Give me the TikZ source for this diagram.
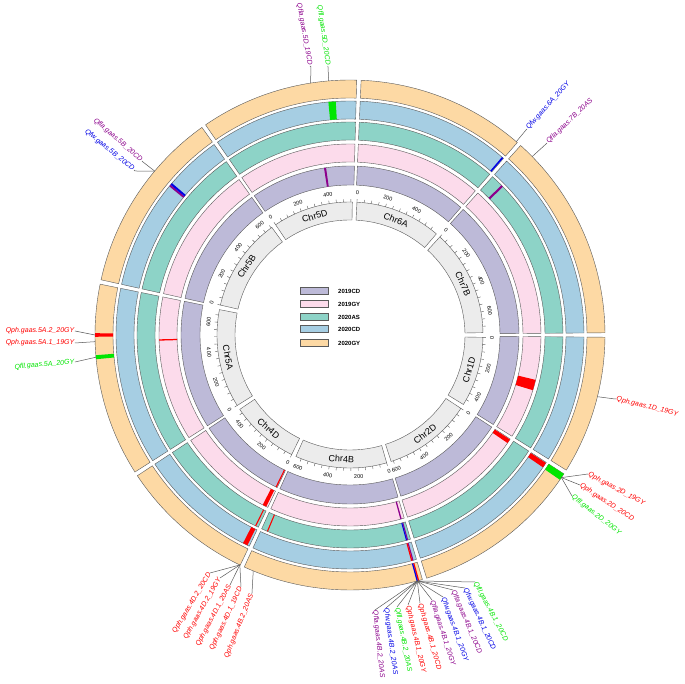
\documentclass[tikz,border=0pt]{standalone}
\usepackage{fontspec}
\setmainfont{Liberation Sans}
\definecolor{cpur}{RGB}{189,186,216}
\definecolor{cpink}{RGB}{252,219,235}
\definecolor{cteal}{RGB}{141,211,199}
\definecolor{cblue}{RGB}{166,206,227}
\definecolor{corange}{RGB}{253,217,164}
\definecolor{cgrey}{RGB}{236,236,236}
\definecolor{ringline}{RGB}{90,90,90}
\definecolor{lred}{RGB}{255,0,0}
\definecolor{lgreen}{RGB}{0,230,0}
\definecolor{lblue}{RGB}{0,0,230}
\definecolor{lpur}{RGB}{140,0,140}
\newcommand\mysector[5]{\fill[#5,draw=ringline,line width=0.4pt] (#3:#1pt) arc[start angle=#3,end angle=#4,radius=#1pt] -- (#4:#2pt) arc[start angle=#4,end angle=#3,radius=#2pt] -- cycle;}
\newcommand\myqtl[5]{\pgfmathsetmacro\qa{#3+#4/2}\pgfmathsetmacro\qb{#3-#4/2}\fill[#5] (\qa:#1pt) arc[start angle=\qa,end angle=\qb,radius=#1pt] -- (\qb:#2pt) arc[start angle=\qb,end angle=\qa,radius=#2pt] -- cycle;}
\tikzset{
  qlab/.style={font=\fontsize{7}{8}\selectfont\itshape,inner sep=0.5pt},
  lead/.style={draw=ringline,line width=0.5pt},
  legbox/.style={draw=ringline,line width=0.5pt,minimum width=28pt,minimum height=7pt,inner sep=0pt},
  legtxt/.style={font=\fontsize{6}{7}\selectfont\bfseries,anchor=west,inner sep=0pt}
}
\begin{document}
\begin{tikzpicture}[x=1pt,y=1pt]
\useasboundingbox (-350,-349) rectangle (335,335);
\fill[white] (-350,-349) rectangle (335,335);
% chromosomes and rings
\foreach \nm/\s/\e in {Chr6A/88/48.5, Chr7B/48.5/0, Chr1D/0/-32.5, Chr2D/-32.5/-73, Chr4B/-73/-115, Chr4D/-115/-147, Chr5A/-147/-192, Chr5B/168/125, Chr5D/125/88}{
  \pgfmathsetmacro\sa{\s-0.5}\pgfmathsetmacro\ea{\e+0.5}
  \foreach \ri/\ro/\c in {150/169/cpur,173/191/cpink,195/213/cteal,216/234/cblue,237/255/corange}{
    \mysector{\ri}{\ro}{\sa}{\ea}{\c}}
  \pgfmathsetmacro\sg{\s-1}\pgfmathsetmacro\eg{\e+1}
  \mysector{115}{133}{\sg}{\eg}{cgrey}
  \pgfmathsetmacro\mid{(\s+\e)/2}
  \pgfmathsetmacro\rot{mod(\mid-90+810,180)-90}
  \node[font=\fontsize{9}{10}\selectfont,rotate=\rot] (lab\nm) at (\mid:124pt) {\nm};
  \foreach \t in {0,50,...,750}{
    \pgfmathsetmacro\ok{(\t*0.0625<=\s-\e-2.3)?1:0}
    \ifdim\ok pt>0.5pt
      \pgfmathsetmacro\ang{\s-1-\t*0.0625}
      \draw[ringline,line width=0.4pt] (\ang:133pt) -- (\ang:136pt);
      \pgfmathsetmacro\lb{(mod(\t,200)==0)?1:0}
      \ifdim\lb pt>0.5pt
        \pgfmathsetmacro\rt{mod(\ang-90+810,180)-90}
        \node[font=\fontsize{5.5}{6}\selectfont,rotate=\rt,inner sep=0pt] at (\ang:142pt) {\t};
      \fi
    \fi
  }
}
% QTL marks
\myqtl{150}{169}{98.5}{0.7}{lpur}
\myqtl{216}{234}{94.4}{1.8}{lgreen}
\myqtl{216}{234}{140.3}{0.5}{lpur}
\myqtl{216}{234}{139.8}{0.5}{lblue}
\myqtl{216}{234}{49.3}{0.4}{lblue}
\myqtl{195}{213}{44.4}{0.6}{lpur}
\myqtl{173}{191}{-15.2}{3.2}{lred}
\myqtl{173}{191}{-33.8}{1.3}{lred}
\myqtl{216}{234}{-33.8}{1.3}{lred}
\myqtl{237}{255}{-33.8}{1.6}{lgreen}
\myqtl{173}{191}{-74.5}{0.4}{lpur}
\myqtl{195}{213}{-74.3}{0.3}{lpur}
\myqtl{195}{213}{-74.6}{0.3}{lblue}
\myqtl{216}{234}{-74.4}{0.3}{lpur}
\myqtl{216}{234}{-74.7}{0.3}{lred}
\myqtl{237}{255}{-74.4}{0.3}{lred}
\myqtl{237}{255}{-74.7}{0.3}{lblue}
\myqtl{150}{169}{-115.9}{0.4}{lred}
\myqtl{173}{191}{-116.6}{1.2}{lred}
\myqtl{195}{213}{-112.8}{0.3}{lred}
\myqtl{195}{213}{-116.3}{0.3}{lred}
\myqtl{216}{234}{-116.6}{1.2}{lred}
\myqtl{237}{255}{180}{0.8}{lred}
\myqtl{173}{191}{181.5}{0.4}{lred}
\myqtl{237}{255}{185}{0.9}{lgreen}
% legend
\foreach \y/\c/\t in {44/cpur/2019CD,31/cpink/2019GY,18/cteal/2020AS,6/cblue/2020CD,-8/corange/2020GY}{
  \node[legbox,fill=\c] (box\t) at (-36,\y) {};
  \node[legtxt] (txt\t) at (-12,\y) {\t};
}
% label connectors
\coordinate (a5D1) at (98.9:255pt);
\coordinate (e5D1) at (-39,268);
\node[qlab,lpur,rotate=-80,anchor=east] (l5D1) at (-40,269) {Qfla.gaas.5D\_19CD};
\draw[lead] (a5D1) -- (e5D1) -- (l5D1.east);
\coordinate (a5D2) at (94.8:255pt);
\coordinate (e5D2) at (-22,268);
\node[qlab,lgreen,rotate=-82,anchor=east] (l5D2) at (-22,269) {Qfll.gaas.5D\_20CD};
\draw[lead] (a5D2) -- (e5D2) -- (l5D2.east);
\coordinate (a5B) at (140:255pt);
\coordinate (e5B1) at (-207,173);
\coordinate (e5B2) at (-215,164);
\node[qlab,lpur,rotate=-41,anchor=east] (l5B1) at (-208,174) {Qfla.gaas.5B\_20CD};
\node[qlab,lblue,rotate=-39,anchor=east] (l5B2) at (-216,165) {Qfw.gaas.5B\_20CD};
\draw[lead] (a5B) -- (e5B1) -- (l5B1.east);
\draw[lead] (a5B) -- (e5B2) -- (l5B2.east);
\coordinate (a6A) at (49.3:255pt);
\coordinate (e6A) at (176,205);
\node[qlab,lblue,rotate=48,anchor=west] (l6A) at (177,206) {Qfw.gaas.6A\_20GY};
\draw[lead] (a6A) -- (e6A) -- (l6A.west);
\coordinate (a7B) at (44.4:255pt);
\coordinate (e7B) at (196,191);
\node[qlab,lpur,rotate=44,anchor=west] (l7B) at (197,192) {Qfla.gaas.7B\_20AS};
\draw[lead] (a7B) -- (e7B) -- (l7B.west);
\coordinate (a1D) at (-14:255pt);
\coordinate (e1D) at (265,-64);
\node[qlab,lred,rotate=-14,anchor=west] (l1D) at (266,-64) {Qph.gaas.1D\_19GY};
\draw[lead] (a1D) -- (e1D) -- (l1D.west);
\coordinate (a2D) at (-34:255pt);
\foreach \i/\p/\r/\c/\t in {1/{(238,-139)}/-28/lred/Qph.gaas.2D\_19GY, 2/{(230,-150)}/-33/lred/Qph.gaas.2D\_20CD, 3/{(222,-161)}/-38/lgreen/Qfll.gaas.2D\_20GY}{
  \node[qlab,\c,rotate=\r,anchor=west] (l2D\i) at \p {\t};
  \draw[lead] (a2D) -- (l2D\i.west);
}
\coordinate (a4B) at (-74.7:255pt);
\foreach \i/\p/\r/\c/\t in {
 1/{(25,-275)}/-84/lpur/Qfla.gaas.4B.2\_20AS,
 2/{(36,-273)}/-82/lblue/Qfw.gaas.4B.2\_20AS,
 3/{(47,-272)}/-79/lgreen/Qfll.gaas.4B.2\_20AS,
 4/{(58,-270)}/-77/lred/Qph.gaas.4B.1\_20GY,
 5/{(70,-268)}/-74/lred/Qph.gaas.4B.1\_20CD,
 6/{(82,-265)}/-72/lpur/Qfla.gaas.4B.1\_20GY,
 7/{(93,-262)}/-70/lblue/Qfw.gaas.4B.1\_20GY,
 8/{(103,-255)}/-67/lpur/Qfla.gaas.4B.1\_20CD,
 9/{(115,-253)}/-65/lblue/Qfw.gaas.4B.1\_20CD,
 10/{(125,-247)}/-62/lgreen/Qfll.gaas.4B.1\_20CD}{
  \node[qlab,\c,rotate=\r,anchor=west] (l4B\i) at \p {\t};
  \draw[lead] (a4B) -- (l4B\i.west);
}
\coordinate (a4D) at (-115.6:255pt);
\foreach \i/\p/\r/\t in {
 1/{(-140,-238)}/59/Qph.gaas.4D.2\_20CD,
 2/{(-130,-243)}/60/Qph.gaas.4D.2\_19GY,
 3/{(-120,-250)}/62/Qph.gaas.4D.1\_20AS,
 4/{(-109,-252)}/65/Qph.gaas.4D.1\_19CD}{
  \node[qlab,lred,rotate=\r,anchor=east] (l4D\i) at \p {\t};
  \draw[lead] (a4D) -- (l4D\i.east);
}
\coordinate (a4B2) at (-112.3:255pt);
\coordinate (e4B2) at (-98,-258);
\node[qlab,lred,rotate=68,anchor=east] (l4B2) at (-98,-259) {Qph.gaas.4B.2\_20AS};
\draw[lead] (a4B2) -- (e4B2) -- (l4B2.east);
\coordinate (a5A1) at (180:255pt);
\coordinate (a5A2) at (181.5:255pt);
\coordinate (a5A3) at (185:255pt);
\node[qlab,lred,anchor=east] (l5A1) at (-275,4) {Qph.gaas.5A.2\_20GY};
\node[qlab,lred,anchor=east] (l5A2) at (-275,-8) {Qph.gaas.5A.1\_19GY};
\node[qlab,lgreen,rotate=5,anchor=east] (l5A3) at (-275,-27) {Qfll.gaas.5A\_20GY};
\draw[lead] (a5A1) -- (l5A1.east);
\draw[lead] (a5A2) -- (l5A2.east);
\draw[lead] (a5A3) -- (l5A3.east);
\end{tikzpicture}
\end{document}
